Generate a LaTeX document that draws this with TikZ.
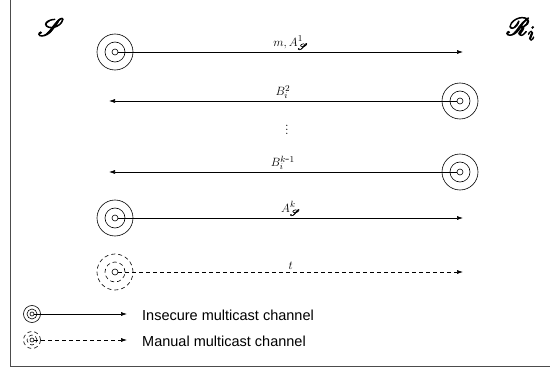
\documentclass[tikz,border=0pt]{standalone}
\usepackage{mathrsfs}
\usepackage{fontspec}
\setsansfont{Liberation Sans}
\usetikzlibrary{arrows.meta}
\newcommand{\heavyscr}[1]{\special{pdf:literal direct 2 Tr 0.9 w}#1\special{pdf:literal direct 0 Tr 0.4 w}}
\newcommand{\subscr}{\special{pdf:literal direct 2 Tr 0.35 w}\mathscr{S}\special{pdf:literal direct 0 Tr 0.4 w}}
\tikzset{
  outerc/.style={circle, draw, minimum size=36pt, inner sep=0pt, line width=0.6pt},
  midc/.style={circle, draw, minimum size=20pt, inner sep=0pt, line width=0.6pt},
  innc/.style={circle, draw, minimum size=6pt, inner sep=0pt, line width=0.6pt},
  louter/.style={circle, draw, minimum size=17pt, inner sep=0pt, line width=0.6pt},
  lmid/.style={circle, draw, minimum size=10pt, inner sep=0pt, line width=0.6pt},
  linn/.style={circle, draw, minimum size=4pt, inner sep=0pt, line width=0.6pt},
  dsh/.style={dash pattern=on 4pt off 3pt},
  msg/.style={-{Latex[length=6pt,width=4pt]}, line width=0.6pt},
  lbl/.style={above, inner sep=2pt, font=\fontsize{13}{15}\selectfont},
  party/.style={font=\fontsize{28}{32}\selectfont},
  legtext/.style={anchor=west, inner sep=0pt, font=\sffamily\fontsize{14.5}{16}\selectfont},
  frameline/.style={draw=black!70, line width=0.8pt}
}
\begin{document}
\begin{tikzpicture}[x=1pt,y=-1pt]
\useasboundingbox (0,0) rectangle (550,369);
\coordinate (ftop) at (10,0);
\coordinate (fcorner) at (10,366);
\coordinate (fright) at (550,366);
\draw[frameline] (ftop) -- (fcorner) -- (fright);

\node[party] (S) at (51,27) {\heavyscr{$\mathscr{S}$}};
\node[party] (R) at (521,29) {\heavyscr{$\mathscr{R}_i$}};

% row 1
\node[outerc] (a1o) at (115,52) {};
\node[midc] (a1m) at (115,52) {};
\node[innc] (a1i) at (115,52) {};
\coordinate (a1e) at (463,52);
\draw[msg] (a1i.east) -- node[lbl] {$m, A_{\subscr}^{1}$} (a1e);

% row 2
\node[outerc] (b2o) at (460,101) {};
\node[midc] (b2m) at (460,101) {};
\node[innc] (b2i) at (460,101) {};
\coordinate (b2e) at (109,101);
\draw[msg] (b2i.west) -- node[lbl] {$B_{i}^{2}$} (b2e);

\node[font=\fontsize{13}{15}\selectfont] (dots) at (287,127) {$\vdots$};

% row 3
\node[outerc] (b3o) at (460,172) {};
\node[midc] (b3m) at (460,172) {};
\node[innc] (b3i) at (460,172) {};
\coordinate (b3e) at (109,172);
\draw[msg] (b3i.west) -- node[lbl] {$B_{i}^{k\mbox{-}1}$} (b3e);

% row 4
\node[outerc] (a4o) at (115,218) {};
\node[midc] (a4m) at (115,218) {};
\node[innc] (a4i) at (115,218) {};
\coordinate (a4e) at (463,218);
\draw[msg] (a4i.east) -- node[lbl] {$A_{\subscr}^{k}$} (a4e);

% row 5 (manual)
\node[outerc, dsh] (t5o) at (115,272) {};
\node[midc, dsh] (t5m) at (115,272) {};
\node[innc] (t5i) at (115,272) {};
\coordinate (t5e) at (463,272);
\draw[msg, dsh] (t5i.east) -- node[lbl] {$t$} (t5e);

% legend
\node[louter] (l1o) at (32,314) {};
\node[lmid] (l1m) at (32,314) {};
\node[linn] (l1i) at (32,314) {};
\coordinate (l1e) at (127,314);
\draw[msg] (l1i.east) -- (l1e);
\node[legtext] (l1t) at (142,315) {Insecure multicast channel};

\node[louter, dsh] (l2o) at (32,340) {};
\node[lmid, dsh] (l2m) at (32,340) {};
\node[linn] (l2i) at (32,340) {};
\coordinate (l2e) at (127,340);
\draw[msg, dsh] (l2i.east) -- (l2e);
\node[legtext] (l2t) at (142,341) {Manual multicast channel};
\end{tikzpicture}
\end{document}
